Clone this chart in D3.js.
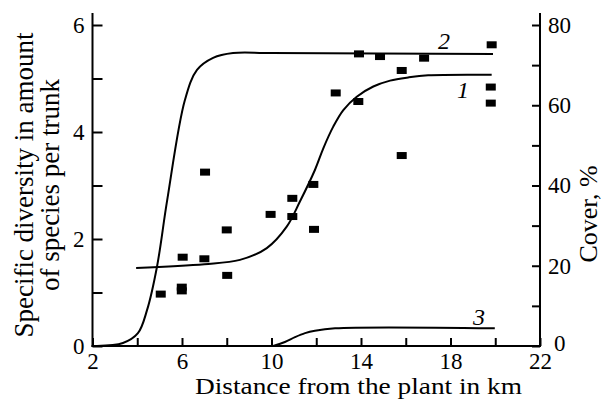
<!DOCTYPE html>
<html>
<head>
<meta charset="utf-8">
<script src="https://cdnjs.cloudflare.com/ajax/libs/d3/7.8.5/d3.min.js"></script>
<style>
  body { margin: 0; background: #fff; }
  svg { display: block; }
</style>
</head>
<body>
<svg id="chart" width="610" height="400"></svg>
<script>
// squares: specific diversity (left axis)
var pointsX = [5.05, 5.99, 5.99, 6.03, 7.0, 7.03, 8.0, 8.02, 9.96, 10.93, 10.93, 11.87, 11.9,
               12.87, 13.88, 13.91, 14.85, 15.82, 15.82, 16.82, 19.8, 19.8, 19.84];
var pointsY = [0.97, 1.03, 1.10, 1.66, 1.63, 3.25, 2.17, 1.32, 2.46, 2.42, 2.76, 3.02, 2.18,
               4.73, 4.57, 5.46, 5.41, 5.15, 3.56, 5.38, 4.54, 4.84, 5.63];

// curve 1 - diversity (left axis)
var curve1X = [3.95, 7.0, 8.59, 9.79, 10.68, 11.27, 11.94, 12.32, 12.76, 13.21, 13.81, 14.55, 15.3, 16.11, 17.0, 19.84];
var curve1Y = [1.46, 1.53, 1.61, 1.83, 2.23, 2.7, 3.29, 3.70, 4.10, 4.41, 4.66, 4.85, 4.96, 5.02, 5.06, 5.07];

// curve 2 - cover % (right axis)
var curve2X = [2.2, 3.36, 4.03, 4.44, 4.88, 5.34, 6.13, 6.67, 7.39, 8.28, 10.0, 19.9];
var curve2Y = [0, 0.75, 3.2, 9, 19.7, 36.4, 61.3, 68.8, 71.8, 73, 73, 72.8];

// curve 3 - cover % (right axis)
var curve3X = [10.08, 10.6, 11.05, 11.5, 11.94, 12.84, 19.98];
var curve3Y = [0, 1.0, 2.2, 3.2, 3.8, 4.4, 4.4];

var xTicks = [2, 4, 6, 8, 10, 12, 14, 16, 18, 20, 22];
var xLabels = [2, 6, 10, 14, 18, 22];
var yTicks = [0, 1, 2, 3, 4, 5, 6];
var yLabels = [0, 2, 4, 6];
var y2Ticks = [0, 10, 20, 30, 40, 50, 60, 70, 80];
var y2Labels = [0, 20, 40, 60, 80];

var curveLabels = [
  {text: "2", x: 17.44, y: 5.55},
  {text: "1", x: 18.29, y: 4.64},
  {text: "3", x: 19.0, y: 0.39}
];

var svg = d3.select("#chart");
var font = "'Liberation Serif', 'Times New Roman', serif";

var x = d3.scaleLinear().domain([2, 22]).range([92.5, 540]);
var y = d3.scaleLinear().domain([0, 6]).range([346, 25]);
var y2 = d3.scaleLinear().domain([0, 80]).range([346, 25]);

svg.append("rect").attr("width", 610).attr("height", 400).attr("fill", "#fff");

// axes
var gx = svg.append("g")
    .attr("transform", "translate(0," + y(0) + ")")
    .call(d3.axisBottom(x).tickValues(xTicks).tickSizeInner(-8).tickSizeOuter(0).tickPadding(7)
      .tickFormat(function(d) { return xLabels.indexOf(d) >= 0 ? d : ""; }));

var gy = svg.append("g")
    .attr("transform", "translate(" + x(2) + ",0)")
    .call(d3.axisLeft(y).tickValues(yTicks).tickSizeInner(-10).tickSizeOuter(0).tickPadding(8)
      .tickFormat(function(d) { return yLabels.indexOf(d) >= 0 ? d : ""; }));

var gy2 = svg.append("g")
    .attr("transform", "translate(" + x(22) + ",0)")
    .call(d3.axisRight(y2).tickValues(y2Ticks).tickSizeInner(-8).tickSizeOuter(0).tickPadding(8)
      .tickFormat(function(d) { return y2Labels.indexOf(d) >= 0 ? d : ""; }));

[gx, gy, gy2].forEach(function(g) {
  g.attr("font-family", null);
  g.select(".domain").remove();
  g.selectAll(".tick line").attr("stroke", "#000").attr("stroke-width", 2);
  g.selectAll(".tick text")
    .filter(function() { return this.textContent === ""; })
    .remove();
  g.selectAll(".tick text")
    .attr("fill", "#000")
    .style("font-family", font)
    .style("font-size", "23px");
});

// the right-hand "0" sits a little to the right of "22"
gy2.selectAll(".tick text")
  .filter(function(d) { return d === 0; })
  .attr("x", 14)
  .attr("dy", "0.2em");

// spines (extend a bit above the top tick)
svg.append("line")
  .attr("x1", x(2)).attr("x2", x(2)).attr("y1", y(0) + 1).attr("y2", y(6) - 12)
  .attr("stroke", "#000").attr("stroke-width", 2);
svg.append("line")
  .attr("x1", x(22)).attr("x2", x(22)).attr("y1", y(0) + 1).attr("y2", y(6) - 12)
  .attr("stroke", "#000").attr("stroke-width", 2);
svg.append("line")
  .attr("x1", x(2) - 1).attr("x2", x(22) + 1).attr("y1", y(0)).attr("y2", y(0))
  .attr("stroke", "#000").attr("stroke-width", 2);

// curves
function drawCurve(xs, ys, yScale) {
  var pts = xs.map(function(d, i) { return [d, ys[i]]; });
  var line = d3.line()
    .x(function(d) { return x(d[0]); })
    .y(function(d) { return yScale(d[1]); })
    .curve(d3.curveCatmullRom.alpha(0.5));
  svg.append("path")
    .datum(pts)
    .attr("fill", "none")
    .attr("stroke", "#000")
    .attr("stroke-width", 2)
    .attr("stroke-linejoin", "round")
    .attr("d", line);
}
drawCurve(curve2X, curve2Y, y2);
drawCurve(curve1X, curve1Y, y);
drawCurve(curve3X, curve3Y, y2);

// squares
svg.selectAll("rect.pt")
  .data(pointsX.map(function(d, i) { return [d, pointsY[i]]; }))
  .enter()
  .append("rect")
  .attr("class", "pt")
  .attr("x", function(d) { return x(d[0]) - 5; })
  .attr("y", function(d) { return y(d[1]) - 3.5; })
  .attr("width", 10)
  .attr("height", 7)
  .attr("fill", "#000");

// curve numbers
svg.selectAll("text.cl")
  .data(curveLabels)
  .enter()
  .append("text")
  .attr("class", "cl")
  .attr("x", function(d) { return x(d.x); })
  .attr("y", function(d) { return y(d.y); })
  .style("font-family", font)
  .style("font-style", "italic")
  .style("font-size", "24px")
  .text(function(d) { return d.text; });

// titles
svg.append("text")
  .attr("x", 195).attr("y", 394)
  .attr("textLength", 327)
  .attr("lengthAdjust", "spacingAndGlyphs")
  .style("font-family", font)
  .style("font-size", "24px")
  .text("Distance from the plant in km");

svg.append("text")
  .attr("transform", "translate(33,185) rotate(-90)")
  .style("text-anchor", "middle")
  .style("font-family", font)
  .style("font-size", "27px")
  .text("Specific diversity in amount");

svg.append("text")
  .attr("transform", "translate(59,185) rotate(-90)")
  .style("text-anchor", "middle")
  .style("font-family", font)
  .style("font-size", "27px")
  .text("of species per trunk");

svg.append("text")
  .attr("transform", "translate(597,214) rotate(-90)")
  .style("text-anchor", "middle")
  .style("font-family", font)
  .style("font-size", "26px")
  .text("Cover, %");
</script>
</body>
</html>
